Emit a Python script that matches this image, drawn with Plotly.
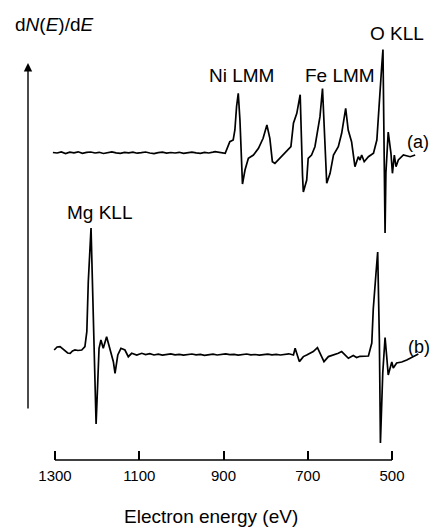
import plotly.graph_objects as go

# ---- data (electron energy in eV, dN(E)/dE in arbitrary units) ----
energy_a = [
    1305, 1295, 1285, 1275, 1265, 1255, 1245, 1235, 1225, 1215,
    1205, 1195, 1185, 1175, 1165, 1155, 1145, 1135, 1125, 1115,
    1105, 1095, 1085, 1075, 1065, 1055, 1045, 1035, 1025, 1015,
    1005, 995, 985, 975, 965, 955, 945, 935, 925,
    920, 896, 889, 885, 877, 873, 869, 865, 861, 857, 855, 849, 841, 829,
    817, 806, 797, 790, 784, 778, 766, 750, 740, 734, 726, 718, 716,
    712.5, 710.5, 702.5, 699, 691, 683, 671, 665, 659, 655, 647, 639,
    627.5, 619.5, 610, 604, 596, 588, 580, 576, 572, 566, 556, 544, 536,
    530, 524.5, 521.5, 519, 516.5, 514.5, 509, 502.5, 499, 494.5, 490.5,
    485, 473, 457, 445,
]
signal_a = [
    0.5, 0, 1, -0.5, 0.8, 0.2, 1.2, -0.3, 0.6, 1,
    0, 0.7, -0.5, 0.4, 1.1, 0.2, -0.4, 0.6, 0.1, 0.9,
    -0.2, 0.3, 1, 0, -0.6, 0.4, 0.8, -0.1, 0.5, 0,
    0.7, -0.4, 0.2, 0.9, 0.1, -0.3, 0.6, 0, 0.8,
    1.3, -0.3, 6.3, 11.3, 13, 23, 46.3, 59.7, 33, -17, -31, -17, -5.3, -2,
    4.7, 14.7, 28, 14.7, -8.7, -10.3, -5.3, 1.3, 6.3, 29.7, 39.7, 58.3, 23,
    -22, -39, -27, -5.3, -2, 6.3, 36.3, 64.5, 3, -30.3, -20.3, -2,
    6.3, 19.7, 44.7, 23, 11.3, -13.7, -3.7, -7, -2, -8.7, -3.7, -0.3, 13,
    46.3, 86.3, 103.5, 13, -80, -20.3, 21, -0.3, -20.3, -2, -13.7,
    -7, -2, -3.7, -2,
]

energy_b = [
    1302, 1295, 1288, 1282, 1276, 1270, 1264, 1258.5, 1252.5, 1245.5,
    1236.5, 1229, 1224.5, 1221, 1214.5, 1209, 1205, 1202.5, 1198.5, 1195.5,
    1191, 1185.5, 1177.5, 1169.5, 1161.5, 1157.5, 1151, 1143.5, 1134, 1126,
    1118, 1106, 1094,
    1085, 1075, 1065, 1055, 1045, 1035, 1025, 1015, 1005, 995,
    985, 975, 965, 955, 945, 935, 925, 915, 905, 895,
    885, 875, 865, 855, 845, 835, 825, 815, 805, 795,
    785, 775, 765, 755, 745,
    734, 730, 720, 710.5, 702.5, 687, 677, 669, 661.5, 651, 639, 627.5,
    619.5, 611.5, 603.5, 592, 584, 576, 565, 556, 548, 544.5, 538, 534,
    530, 527.5, 522, 516.5, 512.5, 509, 500.5, 497, 489, 477, 465, 449.5,
    437.5,
]
signal_b = [
    4, 7, 7.3, 5, 2.3, 1, 0.7, 3, 4, 3.5,
    4, 7.3, 22.3, 72.3, 126, 39, -27.7, -70, -27.7, 5.7,
    14, 5.7, 17.3, 5.7, -7.7, -19.3, -1, 5.7, 4, -2.7,
    0.7, -1, 0.7,
    -0.5, 0.3, -1, -0.2, -1.2, -0.4, 0.2, -0.8, -0.3, -1.1,
    -0.5, 0, -0.9, -0.4, -1.3, -0.6, -0.1, -1, -0.5, 0.1,
    -0.7, -0.3, -1.1, -0.4, 0, -0.9, -0.5, -1.2, -0.6, -0.1,
    -0.8, -0.3, -1, -0.4, 0.2,
    -1, 5.7, -7.6, -2.6, -1, 2.4, 6.4, -1, -7.6, -2.6, -1, 0.7,
    2.4, -1, -4.3, -1.6, -3.6, -2.3, -2.3, -2, 11, 45, 81, 102,
    14, -89, -19, 16.5, -3, -21, -8, -14, -9, -8, -6, -3,
    0,
]

offset_a = 307
offset_b = 106

tick_values = [1300, 1100, 900, 700, 500]
tick_labels = ["1300", "1100", "900", "700", "500"]

peak_names = ["Ni LMM", "Fe LMM", "O KLL", "Mg KLL"]
trace_names = ["(a)", "(b)"]

assert len(energy_a) == len(signal_a)
assert len(energy_b) == len(signal_b)

FONT = "Liberation Sans, Arial, sans-serif"

fig = go.Figure()
fig.add_trace(go.Scatter(
    x=energy_a, y=[v + offset_a for v in signal_a], mode="lines",
    line=dict(color="black", width=1.7), hoverinfo="skip"))
fig.add_trace(go.Scatter(
    x=energy_b, y=[v + offset_b for v in signal_b], mode="lines",
    line=dict(color="black", width=1.7), hoverinfo="skip"))

annotations = []
# peak labels (data coordinates)
label_pos = [(857, 385), (623, 385), (489, 426.5), (1195.5, 248)]
for name, (xx, yy) in zip(peak_names, label_pos):
    annotations.append(dict(x=xx, y=yy, xref="x", yref="y", text=name,
                            showarrow=False, xanchor="center", yanchor="middle",
                            font=dict(family=FONT, size=19, color="black")))
trace_pos = [(438.3, 318), (435.9, 113)]
for name, (xx, yy) in zip(trace_names, trace_pos):
    annotations.append(dict(x=xx, y=yy, xref="x", yref="y", text=name,
                            showarrow=False, xanchor="center", yanchor="middle",
                            font=dict(family=FONT, size=18, color="black")))
# y-axis label and arrow
annotations.append(dict(x=54 / 433, y=(460 - 24) / 460, xref="paper", yref="paper",
                        text="d<i>N</i>(<i>E</i>)/d<i>E</i>", showarrow=False,
                        xanchor="center", yanchor="middle",
                        font=dict(family=FONT, size=19, color="black")))
annotations.append(dict(x=28 / 433, y=(460 - 63) / 460, xref="paper", yref="paper",
                        text="", showarrow=True, ax=0, ay=347,
                        arrowhead=2, arrowsize=1.2, arrowwidth=1.4,
                        arrowcolor="black"))
# x-axis title
annotations.append(dict(x=211 / 433, y=(460 - 516) / 460, xref="paper", yref="paper",
                        text="Electron energy (eV)", showarrow=False,
                        xanchor="center", yanchor="middle",
                        font=dict(family=FONT, size=19, color="black")))

fig.update_layout(
    width=433, height=529,
    margin=dict(l=0, r=0, t=0, b=69, pad=0),
    paper_bgcolor="white", plot_bgcolor="white",
    showlegend=False,
    xaxis=dict(range=[1430.6, 402.7], tickmode="array", tickvals=tick_values,
               ticktext=tick_labels, ticks="inside", ticklen=9, tickwidth=1.5,
               tickcolor="black", showgrid=False, zeroline=False, showline=False,
               ticklabelstandoff=5,
               tickfont=dict(family=FONT, size=15, color="black")),
    yaxis=dict(range=[0, 460], visible=False),
    shapes=[dict(type="line", xref="x", yref="paper", x0=1300, x1=500, y0=0, y1=0,
                 line=dict(color="black", width=1.5))],
    annotations=annotations,
)

fig.write_html(
    "out.html",
    config={"displayModeBar": False},
    post_script="document.body.style.margin='0px';document.body.style.overflow='hidden';",
)
